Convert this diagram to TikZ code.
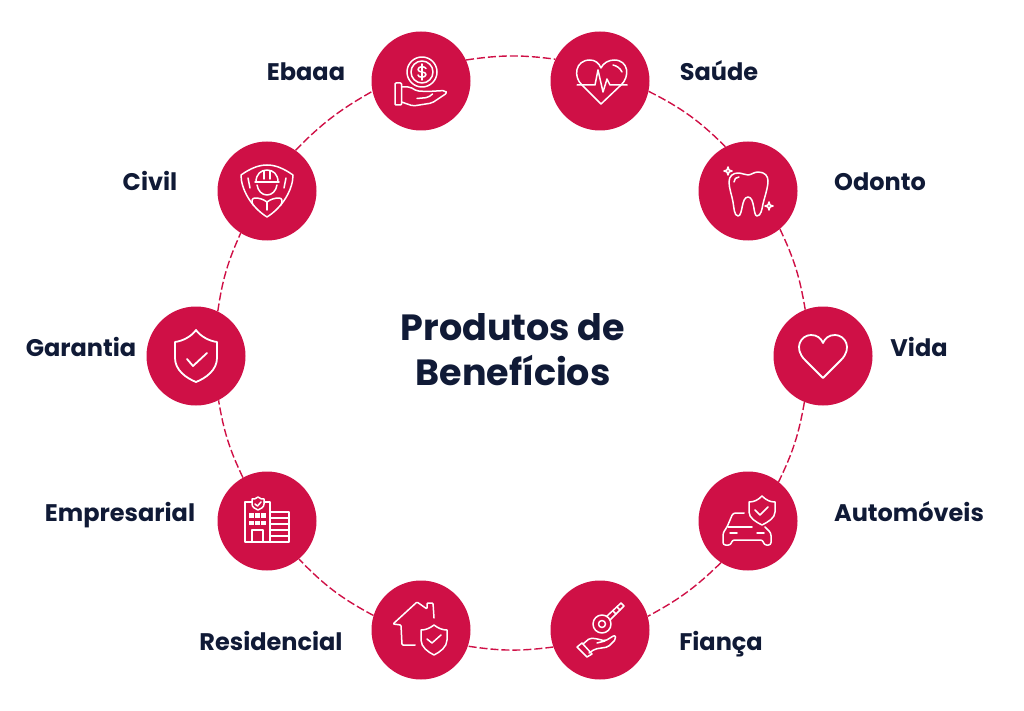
\documentclass[tikz,border=0pt]{standalone}
\usepackage{fontspec}
\setmainfont{Poppins}
\usepackage{tikz}
\definecolor{crimson}{HTML}{CF1046}
\definecolor{navy}{HTML}{101A36}
\tikzset{
  disc/.style={circle, fill=crimson, minimum size=99pt, inner sep=0pt},
  ring/.style={draw=crimson, line width=1.4pt, dash pattern=on 8pt off 3pt},
  rotulo/.style={text=navy, anchor=base, inner sep=0pt, font=\fontsize{24}{28}\selectfont\bfseries},
  icon/.style={draw=white, line width=1.5pt, line join=round, line cap=round},
}
\begin{document}
\begin{tikzpicture}[x=1pt,y=-1pt]
    \useasboundingbox (0,0) rectangle (1024,711);

    \node[disc] (ebaaa) at (421,81) {};
    \node[disc] (saude) at (600,81) {};
    \node[disc] (odonto) at (748,191) {};
    \node[disc] (vida) at (823,356) {};
    \node[disc] (autos) at (748,521) {};
    \node[disc] (fianca) at (600,630) {};
    \node[disc] (resid) at (421,630) {};
    \node[disc] (empresa) at (267,521) {};
    \node[disc] (garantia) at (196,356) {};
    \node[disc] (civil) at (267,191) {};

    % dashed ring, one arc per pair of neighbours
    \draw[ring] (ebaaa.25) to[bend left=8] (saude.154);
    \draw[ring] (saude.-12) to[bend left=9] (odonto.117);
    \draw[ring] (odonto.-50) to[bend left=8] (vida.111);
    \draw[ring] (vida.-112) to[bend left=8] (autos.52);
    \draw[ring] (autos.-123) to[bend left=8] (fianca.16);
    \draw[ring] (fianca.-160) to[bend left=8] (resid.-19);
    \draw[ring] (resid.163) to[bend left=9] (empresa.-50);
    \draw[ring] (empresa.119) to[bend left=8] (garantia.-63);
    \draw[ring] (garantia.64) to[bend left=8] (civil.-122);
    \draw[ring] (civil.55) to[bend left=8] (ebaaa.192);

    \node[rotulo] (lebaaa) at (306,81) {Ebaaa};
    \node[rotulo] (lsaude) at (719,81) {Saúde};
    \node[rotulo] (lodonto) at (880,191) {Odonto};
    \node[rotulo] (lvida) at (919,356) {Vida};
    \node[rotulo] (lautos) at (909,521) {Automóveis};
    \node[rotulo] (lfianca) at (721,650) {Fiança};
    \node[rotulo] (lresid) at (271,650) {Residencial};
    \node[rotulo] (lempresa) at (120,521) {Empresarial};
    \node[rotulo] (lgarantia) at (81,356) {Garantia};
    \node[rotulo] (lcivil) at (150,191) {Civil};

    \node[text=navy, align=center, inner sep=0pt, font=\fontsize{36.5}{45}\selectfont\bfseries] (titulo) at (513,350) {Produtos de\\Benefícios};

    % hand with coin
    \begin{scope}[shift={(ebaaa.center)}, icon]
        \draw (1,-9) circle (15);
        \draw (1,-9) circle (11);
        \draw (1,-17) -- (1,-1);
        \draw (5,-12.5) .. controls (4,-15) and (-3,-15) .. (-3,-11.5) .. controls (-3,-8) and (5,-10) .. (5,-6.5) .. controls (5,-3) and (-3,-3) .. (-3,-6);
        \draw[rounded corners=1pt] (-26,2) rectangle (-19.5,24);
        \draw[rounded corners=2pt] (-19.5,6) -- (-11,6) -- (-4,10) -- (7,10.5) -- (24,9.5) -- (26,12) -- (11,22) -- (-8,25) -- (-19.5,21);
        \draw[rounded corners=2pt] (-4,17.5) -- (7,16.5) -- (11.5,13);
    \end{scope}

    % heart with pulse
    \begin{scope}[shift={(saude.center)}, icon]
        \draw (-18,4) .. controls (-27,-4) and (-25,-21) .. (-10,-21) .. controls (-5,-21) and (-1,-18) .. (1,-13) .. controls (3,-18) and (9,-21) .. (14,-21) .. controls (29,-21) and (30,-4) .. (21,4) -- (1,23) -- cycle;
        \draw (-23,4) -- (-5,4) -- (-2,-11) -- (3,11) -- (7,-2) -- (10,4) -- (27,4);
        \draw (13,-16) .. controls (17,-15) and (20,-13) .. (22,-9);
    \end{scope}

    % tooth
    \begin{scope}[shift={(odonto.center)}, icon]
        \draw (-10,-18) .. controls (-6,-18) and (-3,-16) .. (0,-16) .. controls (3,-16) and (6,-19) .. (10,-19) .. controls (17,-19) and (20,-15) .. (20,-10) .. controls (20,-3) and (16,8) .. (15,13) .. controls (14,18) and (13,25) .. (9,25) .. controls (5,25) and (7,6) .. (0,6) .. controls (-7,6) and (-5,25) .. (-10,25) .. controls (-14,25) and (-14,16) .. (-15,11) .. controls (-16,5) and (-19,-3) .. (-19,-9) .. controls (-19,-15) and (-15,-18) .. (-10,-18) -- cycle;
        \draw (-14,-9) .. controls (-14,-12) and (-12,-14) .. (-9,-14);
        \draw (-20,-24) -- (-19,-21) -- (-16,-20) -- (-19,-19) -- (-20,-16) -- (-21,-19) -- (-24,-20) -- (-21,-21) -- cycle;
        \draw (21,11) -- (22,14) -- (25,15) -- (22,16) -- (21,19) -- (20,16) -- (17,15) -- (20,14) -- cycle;
    \end{scope}

    % plain heart
    \begin{scope}[shift={(vida.center)}, icon, line width=1.8pt]
        \draw (0,22) -- (-18,4) .. controls (-30,-8) and (-22,-21) .. (-12,-21) .. controls (-6,-21) and (-2,-18) .. (0,-13) .. controls (2,-18) and (6,-21) .. (12,-21) .. controls (22,-21) and (30,-8) .. (18,4) -- cycle;
    \end{scope}

    % car with shield
    \begin{scope}[shift={(autos.center)}, icon]
        \draw (1,-19) .. controls (6,-19) and (10,-21) .. (14,-25) .. controls (18,-21) and (22,-19) .. (27,-19) -- (27,-9) .. controls (27,-3) and (20,1) .. (14,4) .. controls (8,1) and (1,-3) .. (1,-9) -- cycle;
        \draw (7,-11) -- (12,-6) -- (20,-14);
        \draw[rounded corners=2.5pt] (-4,-8) -- (-15,-8) -- (-21,6) -- (-25,12) -- (-25,24) -- (-17,24) -- (-16,19) -- (15,19) -- (16,24) -- (23,24) -- (23,12) -- (17,6);
        \draw (-20,6) -- (4,6);
        \draw (-18,12) -- (-11,12);
        \draw (9,12) -- (16,12);
    \end{scope}

    % hand with key
    \begin{scope}[shift={(fianca.center)}, icon]
        \draw (2,-6) circle (9);
        \draw (2,-6) circle (3.5);
        \draw (7,-14) -- (21,-27) -- (24,-24) -- (10,-10);
        \draw (13,-19) -- (16,-16);
        \draw (17,-23) -- (20,-20);
        \draw (-23,17) -- (-18,13) -- (-8,24) -- (-13,27) -- cycle;
        \draw[rounded corners=2pt] (-17,14) -- (-10,8) -- (-2,9) -- (5,11) -- (15,5) -- (16,9) -- (8,17) -- (-5,19) -- (-11,23);
        \draw (-3,13) -- (5,11);
    \end{scope}

    % house with shield
    \begin{scope}[shift={(resid.center)}, icon]
        \draw[rounded corners=1pt] (-6,15) -- (-19,15) -- (-20,-5) -- (-28,-6) -- (-4,-28) -- (6,-21) -- (6,-27) -- (12,-27) -- (13,-12);
        \draw (0,0) .. controls (5,0) and (9,-2) .. (13,-5) .. controls (17,-2) and (21,0) .. (26,0) -- (26,10) .. controls (26,17) and (19,22) .. (13,25) .. controls (7,22) and (0,17) .. (0,10) -- cycle;
        \draw (6,9) -- (11,13) -- (20,5);
    \end{scope}

    % building with shield
    \begin{scope}[shift={(empresa.center)}, icon]
        \draw (-22,-17) -- (-22,21) -- (22,21) -- (22,-9) -- (3,-9);
        \draw (3,21) -- (3,-19) -- (-3,-19);
        \draw (-15,-19) -- (-22,-19) -- (-22,-17);
        \draw (-9,-24) .. controls (-7,-22) and (-5,-22) .. (-3,-22) -- (-3,-17) .. controls (-3,-14) and (-6,-12) .. (-9,-11) .. controls (-12,-12) and (-15,-14) .. (-15,-17) -- (-15,-22) .. controls (-13,-22) and (-11,-22) .. (-9,-24) -- cycle;
        \draw (-12,-17) -- (-9.5,-15) -- (-6,-19);
        \foreach \xp in {-15.5,-9.5,-3.5}
            \foreach \yp in {-5.5,2}
                \fill[white] (\xp-2.5,\yp-2.5) rectangle +(4.5,4.5);
        \draw (-15,21) -- (-15,9) -- (-4,9) -- (-4,21);
        \foreach \yp in {-3,3,9,15}
            \draw (3,\yp) -- (22,\yp);
    \end{scope}

    % shield with check
    \begin{scope}[shift={(garantia.center)}, icon, line width=1.8pt]
        \draw (0,-26) .. controls (4,-20) and (13,-15) .. (21,-14) -- (21,2) .. controls (21,14) and (10,22) .. (0,26) .. controls (-10,22) and (-21,14) .. (-21,2) -- (-21,-14) .. controls (-13,-15) and (-4,-20) .. (0,-26) -- cycle;
        \draw (-9,3) -- (-3,10) -- (11,-3);
    \end{scope}

    % helmet on shield
    \begin{scope}[shift={(civil.center)}, icon]
        \draw (-26,-16) .. controls (-16,-23) and (-8,-26) .. (0,-26) .. controls (8,-26) and (16,-23) .. (26,-16) .. controls (26,-2) and (16,16) .. (0,26) .. controls (-16,16) and (-26,-2) .. (-26,-16) -- cycle;
        \draw (-19,-13) -- (-17,-3);
        \draw (19,-13) -- (17,-3);
        \draw (-12,-9) -- (12,-9);
        \draw (-11,-9) .. controls (-11,-17) and (-6,-21) .. (0,-21) .. controls (6,-21) and (11,-17) .. (11,-9);
        \draw (-3,-20) -- (-3,-12);
        \draw (3,-20) -- (3,-12);
        \draw (-10,-6) .. controls (-9,0) and (-5,4) .. (0,4) .. controls (5,4) and (9,0) .. (10,-6);
        \draw (-14,14) .. controls (-16,10) and (-15,7) .. (-12,7) .. controls (-8,7) and (-4,8) .. (0,11) .. controls (4,8) and (8,7) .. (12,7) .. controls (15,7) and (16,10) .. (14,14);
        \draw (0,11) -- (0,19);
    \end{scope}
\end{tikzpicture}
\end{document}
